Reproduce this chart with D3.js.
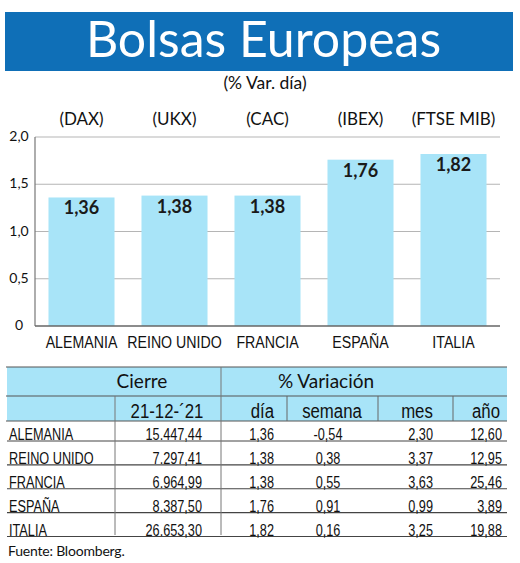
<!DOCTYPE html>
<html><head><meta charset="utf-8">
<script src="https://cdn.jsdelivr.net/npm/d3@7"></script>
<style>
html,body{margin:0;padding:0;background:#fff;}
svg{display:block;}
</style></head>
<body>
<svg id="c" width="520" height="563"></svg>
<script>
// ---- data ----
const categories = ["ALEMANIA","REINO UNIDO","FRANCIA","ESPAÑA","ITALIA"];
const tickers = ["(DAX)","(UKX)","(CAC)","(IBEX)","(FTSE MIB)"];
const dayChange = [1.36, 1.38, 1.38, 1.76, 1.82];
const yTicks = [0, 0.5, 1.0, 1.5, 2.0];
const tableNames = ["ALEMANIA","REINO UNIDO","FRANCIA","ESPAÑA","ITALIA"];
const cierre = ["15.447,44","7.297,41","6.964,99","8.387,50","26.653,30"];
const dia = ["1,36","1,38","1,38","1,76","1,82"];
const semana = ["-0,54","0,38","0,55","0,91","0,16"];
const mes = ["2,30","3,37","3,63","0,99","3,25"];
const anio = ["12,60","12,95","25,46","3,89","19,88"];
const headerTop = ["Cierre","% Variación"];
const headerSub = ["21-12-´21","día","semana","mes","año"];

const SANS = "'Liberation Sans', Arial, sans-serif";
const LATO = "Lato, 'Open Sans', sans-serif";
const BLUE = "#0f6fb7", LIGHT = "#a8e4f8";
const fmt = v => d3.format(".2f")(v).replace(".", ",");
const fmtTick = v => v === 0 ? "0" : d3.format(".1f")(v).replace(".", ",");

const svg = d3.select("#c");

// ---- title ----
svg.append("rect").attr("x",5).attr("y",12).attr("width",508).attr("height",59).attr("fill",BLUE);
svg.append("text").attr("x",263.5).attr("y",57).attr("text-anchor","middle")
  .attr("font-family",LATO).attr("font-size",50).attr("fill","#fff").text("Bolsas Europeas");
svg.append("text").attr("x",265).attr("y",89).attr("text-anchor","middle")
  .attr("font-family",LATO).attr("font-size",17.5).attr("fill","#111").text("(% Var. día)");

// ---- chart ----
const x = d3.scaleBand().domain(categories).range([35,500]).paddingInner(0.29).paddingOuter(0.145);
const y = d3.scaleLinear().domain([0,2]).range([326,137]);

svg.append("g").selectAll("line").data(yTicks.filter(t=>t>0)).join("line")
  .attr("x1",35).attr("x2",500).attr("y1",d=>y(d)).attr("y2",d=>y(d))
  .attr("stroke","#b5b5b5").attr("stroke-width",1.2);

svg.append("g").selectAll("rect").data(dayChange).join("rect")
  .attr("x",(d,i)=>x(categories[i])).attr("width",x.bandwidth())
  .attr("y",d=>y(d)).attr("height",d=>y(0)-y(d)).attr("fill",LIGHT);

svg.append("line").attr("x1",35).attr("x2",35).attr("y1",137).attr("y2",326)
  .attr("stroke","#777").attr("stroke-width",1.2);
svg.append("line").attr("x1",35).attr("x2",500).attr("y1",y(0)).attr("y2",y(0))
  .attr("stroke","#666").attr("stroke-width",1.6);

svg.append("g").selectAll("text").data(yTicks).join("text")
  .attr("x",19).attr("y",d=>y(d)).attr("dy","0.3em").attr("text-anchor","middle")
  .attr("font-family",LATO).attr("font-size",14).attr("fill","#111").text(fmtTick);

svg.append("g").selectAll("text").data(dayChange).join("text")
  .attr("x",(d,i)=>x(categories[i])+x.bandwidth()/2).attr("y",d=>y(d)+17)
  .attr("text-anchor","middle").attr("font-family",LATO).attr("font-weight","bold")
  .attr("font-size",18).attr("fill","#1a1a1a").text(fmt);

// category labels (condensed)
svg.append("g").selectAll("text").data(categories).join("text")
  .attr("transform",d=>`translate(${x(d)+x.bandwidth()/2},348) scale(0.86,1)`)
  .attr("text-anchor","middle").attr("font-family",SANS).attr("font-size",16.5)
  .attr("fill","#111").text(d=>d);

svg.append("g").selectAll("text").data(tickers).join("text")
  .attr("x",(d,i)=>x(categories[i])+x.bandwidth()/2).attr("y",125).attr("text-anchor","middle")
  .attr("font-family",LATO).attr("font-size",17).attr("fill","#111").text(d=>d);

// ---- table ----
const tL = 7, tR = 507;
const g = svg.append("g");
g.append("rect").attr("x",tL).attr("y",367).attr("width",tR-tL).attr("height",54).attr("fill",LIGHT);
[367,396,421].forEach(yy=>{
  g.append("line").attr("x1",tL-1).attr("x2",tR).attr("y1",yy).attr("y2",yy)
    .attr("stroke","#555").attr("stroke-width",1.2);
});
const rowY = d3.scaleLinear().domain([0,4]).range([441,536.5]);
g.selectAll("line.r").data(tableNames).join("line").attr("class","r")
  .attr("x1",tL).attr("x2",tR).attr("y1",(d,i)=>rowY(i)).attr("y2",(d,i)=>rowY(i))
  .attr("stroke","#444").attr("stroke-width",1.2);
g.append("line").attr("x1",221).attr("x2",221).attr("y1",367).attr("y2",535).attr("stroke","#777").attr("stroke-width",1);
g.append("line").attr("x1",115).attr("x2",115).attr("y1",396).attr("y2",535).attr("stroke","#777").attr("stroke-width",1);
[287,378,453].forEach(xx=>{
  g.append("line").attr("x1",xx).attr("x2",xx).attr("y1",396).attr("y2",421).attr("stroke","#666").attr("stroke-width",1);
});

g.append("text").attr("x",142).attr("y",388).attr("text-anchor","middle")
  .attr("font-family",LATO).attr("font-size",19).attr("fill","#111").text(headerTop[0]);
g.append("text").attr("x",326).attr("y",388).attr("text-anchor","middle")
  .attr("font-family",LATO).attr("font-size",19).attr("fill","#111").text(headerTop[1]);

const subPos = [[167,"middle"],[274,"end"],[332,"middle"],[417,"middle"],[500,"end"]];
g.selectAll("text.h2").data(headerSub).join("text").attr("class","h2")
  .attr("transform",(d,i)=>`translate(${subPos[i][0]},418) scale(0.8,1)`)
  .attr("text-anchor",(d,i)=>subPos[i][1])
  .attr("font-family",SANS).attr("font-size",21).attr("fill","#111").text(d=>d);

const cols = [
  {vals: tableNames, x: 9, anchor: "start"},
  {vals: cierre, x: 202, anchor: "end"},
  {vals: dia, x: 274, anchor: "end"},
  {vals: semana, x: 328, anchor: "middle"},
  {vals: mes, x: 433, anchor: "end"},
  {vals: anio, x: 502, anchor: "end"}
];
cols.forEach(c=>{
  g.append("g").selectAll("text").data(c.vals).join("text")
    .attr("transform",(d,i)=>`translate(${c.x},${rowY(i)-1}) scale(0.77,1)`)
    .attr("text-anchor",c.anchor)
    .attr("font-family",SANS).attr("font-size",16.5).attr("fill","#111").text(d=>d);
});

svg.append("text").attr("x",8).attr("y",556).attr("font-family",LATO)
  .attr("font-size",14).attr("letter-spacing",-0.2).attr("fill","#111").text("Fuente: Bloomberg.");
</script>
</body></html>
